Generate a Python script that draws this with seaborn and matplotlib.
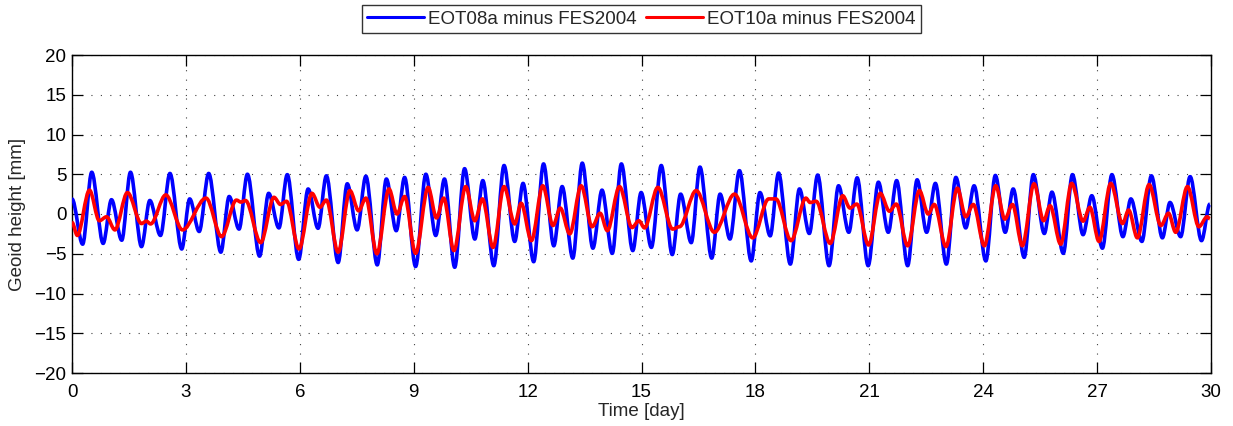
import matplotlib
matplotlib.use("Agg")
import matplotlib.pyplot as plt
from matplotlib.path import Path
from matplotlib.patches import PathPatch
import pandas as pd
import seaborn as sns

# Turning points of the EOT08a - FES2004 geoid height difference (time in days, mm)
eot08_t = [0.00, 0.28, 0.52, 0.82, 1.04, 1.31, 1.54, 1.83, 2.05, 2.33, 2.58, 2.89,
           3.10, 3.35, 3.60, 3.92, 4.14, 4.40, 4.62, 4.94, 5.18, 5.45, 5.67, 5.97,
           6.22, 6.48, 6.70, 7.01, 7.25, 7.51, 7.74, 8.04, 8.28, 8.54, 8.76, 9.05,
           9.32, 9.58, 9.81, 10.08, 10.34, 10.61, 10.82, 11.11, 11.38, 11.66, 11.88,
           12.16, 12.42, 12.69, 12.91, 13.19, 13.44, 13.72, 13.96, 14.23, 14.47, 14.77,
           14.99, 15.26, 15.52, 15.81, 16.03, 16.31, 16.54, 16.85, 17.07, 17.33, 17.58,
           17.89, 18.12, 18.39, 18.61, 18.92, 19.16, 19.42, 19.64, 19.94, 20.19, 20.46,
           20.68, 20.97, 21.24, 21.50, 21.72, 22.01, 22.26, 22.51, 22.74, 23.03, 23.28,
           23.54, 23.76, 24.07, 24.32, 24.58, 24.79, 25.08, 25.32, 25.61, 25.81, 26.11,
           26.35, 26.63, 26.86, 27.14, 27.39, 27.68, 27.89, 28.18, 28.43, 28.72, 28.92,
           29.20, 29.45, 29.75, 29.97]
eot08_mm = [1.9, -3.8, 5.25, -3.7, 1.8, -3.3, 5.25, -4.1, 1.7, -2.7, 5.1, -4.4,
            1.9, -2.2, 5.1, -4.8, 2.2, -1.9, 5.0, -5.3, 2.6, -1.75, 4.95, -5.7,
            3.15, -1.8, 4.8, -6.1, 3.8, -2.0, 4.75, -6.4, 4.4, -2.1, 4.6, -6.6,
            5.0, -2.7, 4.4, -6.7, 5.7, -3.15, 4.2, -6.5, 6.1, -3.45, 3.85,
            -6.0, 6.3, -4.0, 3.45, -5.55, 6.4, -4.3, 3.0, -4.95, 6.3, -4.6,
            2.7, -4.2, 6.1, -5.1, 2.5, -3.6, 5.9, -5.55, 2.5, -3.15, 5.45,
            -5.9, 2.7, -2.75, 5.15, -6.3, 3.15, -2.45, 4.9, -6.5, 3.55, -2.3,
            4.55, -6.5, 4.0, -2.3, 4.2, -6.5, 4.3, -2.3, 3.85, -6.3, 4.6,
            -1.75, 3.55, -5.9, 4.85, -2.3, 3.15, -5.45, 4.95, -2.45, 2.75, -4.95,
            4.95, -2.6, 2.3, -4.3, 4.95, -2.85, 1.9, -3.45, 4.8, -3.0, 1.45,
            -2.85, 4.7, -3.35, 1.25]

# Turning points of the EOT10a - FES2004 geoid height difference
eot10_t = [0.00, 0.14, 0.46, 0.72, 0.91, 1.13, 1.46, 1.83, 1.96, 2.07, 2.47, 2.91,
           3.53, 3.94, 4.33, 4.45, 4.57, 4.97, 5.32, 5.49, 5.65, 5.98, 6.32, 6.53,
           6.70, 7.01, 7.32, 7.55, 7.74, 8.03, 8.35, 8.56, 8.76, 9.05, 9.38, 9.60,
           9.79, 10.06, 10.37, 10.61, 10.81, 11.09, 11.38, 11.66, 11.83, 12.10, 12.40,
           12.67, 12.86, 13.11, 13.41, 13.70, 13.91, 14.10, 14.42, 14.75, 14.93, 15.08,
           15.43, 15.82, 16.00, 16.44, 16.92, 17.45, 17.93, 18.35, 18.54, 18.94, 19.33,
           19.44, 19.60, 19.97, 20.30, 20.49, 20.67, 20.98, 21.29, 21.53, 21.71, 22.01,
           22.32, 22.55, 22.71, 23.02, 23.32, 23.54, 23.74, 24.03, 24.33, 24.57, 24.77,
           25.03, 25.34, 25.59, 25.76, 26.04, 26.33, 26.63, 26.81, 27.05, 27.36, 27.67,
           27.83, 28.06, 28.37, 28.68, 28.88, 29.07, 29.38, 29.68, 29.90, 29.97]
eot10_mm = [-1.05, -2.7, 3.0, -0.85, -0.35, -2.0, 2.7, -1.2, -0.9, -1.25, 2.4, -2.0,
            2.0, -2.85, 1.75, 1.5, 1.7, -3.6, 2.1, 1.2, 1.6, -4.4, 2.6, 0.85,
            1.75, -4.8, 2.95, 0.4, 2.0, -5.0, 3.15, 0.0, 2.2, -4.95, 3.35, -0.5,
            2.0, -4.6, 3.45, -0.85, 1.9, -4.2, 3.45, -1.25, 1.35, -3.35, 3.55,
            -1.45, 0.75, -2.5, 3.55, -1.6, 0.1, -2.1, 3.45, -1.7, -0.85, -1.75,
            3.35, -1.9, -1.6, 2.95, -2.3, 2.5, -3.0, 1.9, 1.9, -3.35, 2.0,
            1.45, 1.6, -3.7, 2.3, 0.75, 1.25, -3.9, 2.6, 0.35, 1.25, -4.0,
            2.95, 0.0, 1.2, -4.1, 3.25, -0.35, 1.2, -4.0, 3.55, -0.65, 1.2,
            -4.0, 3.8, -0.85, 1.05, -3.8, 3.85, -0.9, 0.85, -3.45, 3.85, -1.2,
            0.5, -3.0, 3.7, -1.45, 0.1, -2.3, 3.45, -1.6, -0.35, -0.6]

series_labels = ["EOT08a minus FES2004", "EOT10a minus FES2004"]
series_colors = ["#0000ff", "#ff0000"]
x_ticks = [0, 3, 6, 9, 12, 15, 18, 21, 24, 27, 30]
y_ticks = [-20, -15, -10, -5, 0, 5, 10, 15, 20]

df = pd.concat([
    pd.DataFrame({"t": eot08_t, "mm": eot08_mm, "series": series_labels[0]}),
    pd.DataFrame({"t": eot10_t, "mm": eot10_mm, "series": series_labels[1]}),
], ignore_index=True)

sns.set_style("white")
plt.rcParams["font.family"] = ["Liberation Sans", "DejaVu Sans"]
plt.rcParams["axes.unicode_minus"] = True
FS = 13.5

fig = plt.figure(figsize=(12.33, 4.26), dpi=100)
ax = fig.add_axes([72 / 1233, 1 - 373 / 426, (1211 - 72) / 1233, (373 - 55) / 426])

sns.lineplot(data=df, x="t", y="mm", hue="series", palette=series_colors,
             linewidth=2.6, sort=False, estimator=None, ax=ax, legend=True)


def smooth_through(xs, ys):
    """Cubic path through the turning points, flat at each of them."""
    verts = [(xs[0], ys[0])]
    codes = [Path.MOVETO]
    for i in range(len(xs) - 1):
        dx = xs[i + 1] - xs[i]
        verts += [(xs[i] + dx / 3, ys[i]), (xs[i + 1] - dx / 3, ys[i + 1]),
                  (xs[i + 1], ys[i + 1])]
        codes += [Path.CURVE4] * 3
    return Path(verts, codes)


# render each seaborn line as a smooth curve through its own vertices
for z, ln in enumerate(list(ax.get_lines())[:2]):
    xs, ys = ln.get_xdata(), ln.get_ydata()
    patch = PathPatch(smooth_through(list(xs), list(ys)), facecolor="none",
                      edgecolor=ln.get_color(), linewidth=2.6, capstyle="butt",
                      joinstyle="round", zorder=3 + z)
    ax.add_patch(patch)
    ln.set_visible(False)

ax.set_xlim(0, 30)
ax.set_ylim(-20, 20)
ax.set_xticks(x_ticks)
ax.set_yticks(y_ticks)
ax.tick_params(direction="in", length=8, width=0.9, labelsize=FS, colors="black",
               top=True, right=True, bottom=True, left=True)
ax.tick_params(axis="x", pad=8)
ax.tick_params(axis="y", pad=4)
ax.grid(True, linestyle=(0, (1, 7.5)), color="black", linewidth=0.8, alpha=0.75)
for sp in ax.spines.values():
    sp.set_color("black")
    sp.set_linewidth(1.0)
ax.set_xlabel("Time [day]", fontsize=FS, labelpad=1)
ax.set_ylabel("Geoid height [mm]", fontsize=FS, labelpad=6)

handles, labels = ax.get_legend_handles_labels()
leg = ax.legend(handles, labels, loc="upper center", bbox_to_anchor=(0.5, 1.157), ncol=2,
                frameon=True, fancybox=False, fontsize=FS, handlelength=3.0,
                columnspacing=0.5, handletextpad=0.25, borderpad=0.3, borderaxespad=0,
                title=None)
leg.get_frame().set_edgecolor("black")
leg.get_frame().set_linewidth(1.0)
for h in leg.get_lines():
    h.set_linewidth(2.2)
    h.set_visible(True)

fig.savefig("out.png", dpi=100, facecolor="white")
